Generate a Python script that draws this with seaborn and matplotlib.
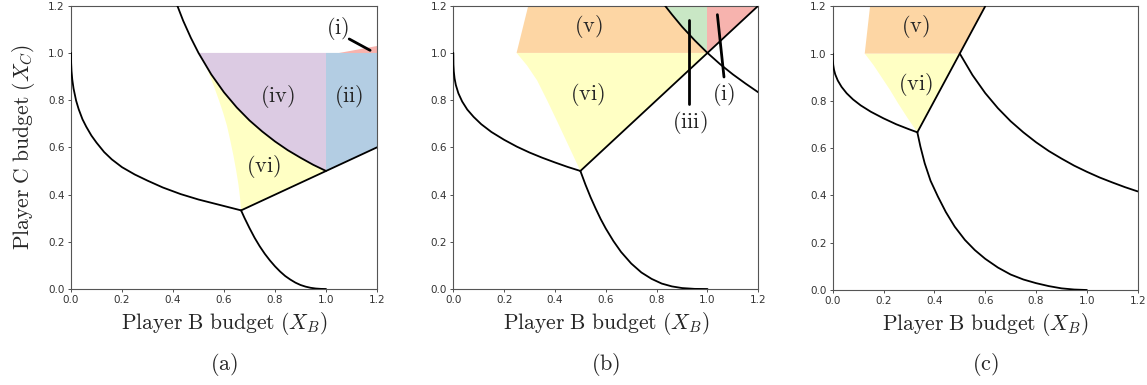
import matplotlib
matplotlib.use('Agg')
import matplotlib.pyplot as plt
import seaborn as sns

sns.set_style('ticks')
plt.rcParams['font.family'] = ['DejaVu Sans']
plt.rcParams['mathtext.fontset'] = 'cm'

# ---------------- panel (a) ----------------
a_left_x = [0.0, 0.0005, 0.002, 0.005, 0.01, 0.02, 0.03, 0.045, 0.06, 0.08, 0.1, 0.13, 0.16, 0.2,
            0.25, 0.3, 0.36, 0.43, 0.5, 0.58, 0.667]
a_left_y = [1.0, 0.957, 0.923, 0.887, 0.849, 0.798, 0.762, 0.719, 0.687, 0.650, 0.620, 0.580, 0.549, 0.516,
            0.485, 0.459, 0.430, 0.402, 0.379, 0.357, 0.333]
a_low_x = [0.667, 0.68, 0.7, 0.72, 0.74, 0.76, 0.78, 0.8, 0.82, 0.84, 0.86, 0.88, 0.9, 0.92, 0.94, 0.96, 0.98, 1.0]
a_low_y = [0.333, 0.302, 0.258, 0.217, 0.181, 0.149, 0.121, 0.096, 0.074, 0.055, 0.040, 0.027, 0.017, 0.010,
           0.005, 0.002, 0.0005, 0.0]
a_up_x = [0.417, 0.44, 0.47, 0.5, 0.55, 0.6, 0.65, 0.7, 0.75, 0.8, 0.85, 0.9, 0.95, 1.0]
a_up_y = [1.2, 1.136, 1.064, 1.0, 0.909, 0.833, 0.769, 0.714, 0.667, 0.625, 0.588, 0.556, 0.526, 0.5]
a_line_x = [0.667, 1.2]
a_line_y = [0.333, 0.6]
a_vi_x = [0.5, 0.52, 0.538, 0.56, 0.58, 0.597, 0.612, 0.624, 0.637, 0.648, 0.657, 0.663, 0.667]
a_vi_y = [1.0, 0.965, 0.921, 0.86, 0.80, 0.745, 0.69, 0.632, 0.565, 0.50, 0.44, 0.385, 0.333]
a_i_x = [1.05, 1.2, 1.2]
a_i_y = [1.0, 1.0, 1.03]

# ---------------- panel (b) ----------------
b_left_x = [0.0, 0.0005, 0.002, 0.005, 0.01, 0.02, 0.035, 0.055, 0.08, 0.11, 0.15, 0.2, 0.25,
            0.3, 0.35, 0.4, 0.45, 0.5]
b_left_y = [1.0, 0.95, 0.921, 0.892, 0.864, 0.829, 0.794, 0.760, 0.729, 0.698, 0.665, 0.632, 0.603,
            0.578, 0.556, 0.536, 0.517, 0.5]
b_low_x = [0.5, 0.52, 0.54, 0.56, 0.58, 0.6, 0.63, 0.66, 0.7, 0.74, 0.78, 0.82, 0.86, 0.9, 0.95, 1.0]
b_low_y = [0.5, 0.442, 0.389, 0.341, 0.296, 0.256, 0.203, 0.157, 0.108, 0.070, 0.043, 0.023, 0.011,
           0.004, 0.0005, 0.0]
b_up_x = [0.833, 0.86, 0.9, 0.95, 1.0, 1.05, 1.1, 1.15, 1.2]
b_up_y = [1.2, 1.163, 1.111, 1.053, 1.0, 0.952, 0.909, 0.870, 0.833]
b_line_x = [0.5, 1.2]
b_line_y = [0.5, 1.2]
b_vi_x = [0.249, 0.29, 0.33, 0.37, 0.41, 0.45, 0.5]
b_vi_y = [1.0, 0.947, 0.883, 0.797, 0.707, 0.615, 0.5]
b_v_top_x = 0.295

# ---------------- panel (c) ----------------
c_left_x = [0.0, 0.0005, 0.002, 0.005, 0.01, 0.02, 0.035, 0.055, 0.08, 0.11, 0.15, 0.2, 0.25, 0.3, 0.333]
c_left_y = [1.0, 0.972, 0.952, 0.932, 0.912, 0.886, 0.859, 0.832, 0.806, 0.781, 0.754, 0.726, 0.701,
            0.680, 0.667]
c_low_x = [0.333, 0.345, 0.362, 0.385, 0.414, 0.445, 0.48, 0.52, 0.559, 0.6, 0.65, 0.7, 0.75, 0.8,
           0.85, 0.9, 0.95, 1.0]
c_low_y = [0.667, 0.607, 0.536, 0.462, 0.395, 0.330, 0.268, 0.212, 0.169, 0.132, 0.095, 0.0655, 0.0445,
           0.029, 0.0165, 0.007, 0.002, 0.0]
c_up_x = [0.5, 0.55, 0.6, 0.65, 0.7, 0.75, 0.8, 0.85, 0.9, 0.95, 1.0, 1.05, 1.1, 1.15, 1.2]
c_up_y = [1.0, 0.909, 0.833, 0.769, 0.714, 0.667, 0.625, 0.588, 0.556, 0.526, 0.5, 0.476, 0.455,
          0.435, 0.417]
c_line_x = [0.333, 0.6]
c_line_y = [0.667, 1.2]
c_vi_x = [0.126, 0.16, 0.191, 0.225, 0.257, 0.296, 0.333]
c_vi_y = [1.0, 0.952, 0.902, 0.847, 0.79, 0.725, 0.667]
c_v_top_x = 0.147

col_i = '#f7b3ae'
col_ii = '#b3cde3'
col_iii = '#c9e7c5'
col_iv = '#dccbe3'
col_v = '#fdd6a4'
col_vi = '#ffffc4'

fig = plt.figure(figsize=(11.47, 3.85), dpi=100)
ax_a = fig.add_axes([71/1147, 1-289/385, 306/1147, 283.3/385])
ax_b = fig.add_axes([453.3/1147, 1-289/385, 305/1147, 283.3/385])
ax_c = fig.add_axes([832.7/1147, 1-290/385, 305/1147, 283.7/385])

lab_fs = 16


def curve(ax, x, y):
    sns.lineplot(x=x, y=y, ax=ax, color='black', lw=1.3, sort=False, estimator=None, zorder=3)


def region_label(ax, x, y, s):
    ax.text(x, y, r'$\mathrm{' + s + '}$', ha='center', va='center', fontsize=lab_fs, zorder=4)


# (a)
a_up_low = [(x, y) for x, y in zip(a_up_x, a_up_y) if x >= 0.5]
ax_a.fill(a_vi_x + [1.0] + [p[0] for p in a_up_low][::-1],
          a_vi_y + [0.5] + [p[1] for p in a_up_low][::-1], color=col_vi, lw=0, zorder=1)
ax_a.fill([0.5, 1.0] + [p[0] for p in a_up_low][::-1],
          [1.0, 1.0] + [p[1] for p in a_up_low][::-1], color=col_iv, lw=0, zorder=2)
ax_a.fill([1.0, 1.2, 1.2, 1.0], [1.0, 1.0, 0.6, 0.5], color=col_ii, lw=0, zorder=2)
ax_a.fill(a_i_x, a_i_y, color=col_i, lw=0, zorder=2)
curve(ax_a, a_left_x, a_left_y)
curve(ax_a, a_low_x, a_low_y)
curve(ax_a, a_up_x, a_up_y)
curve(ax_a, a_line_x, a_line_y)
region_label(ax_a, 0.81, 0.815, '(iv)')
region_label(ax_a, 1.088, 0.815, '(ii)')
region_label(ax_a, 0.754, 0.52, '(vi)')
region_label(ax_a, 1.046, 1.105, '(i)')
ax_a.plot([1.091, 1.173], [1.059, 1.011], color='black', lw=2, zorder=4)

# (b)
ax_b.fill(b_vi_x + [1.0], b_vi_y + [1.0], color=col_vi, lw=0, zorder=1)
b_up_top = [(x, y) for x, y in zip(b_up_x, b_up_y) if x <= 1.0]
ax_b.fill([b_vi_x[0], b_v_top_x] + [p[0] for p in b_up_top],
          [1.0, 1.2] + [p[1] for p in b_up_top], color=col_v, lw=0, zorder=2)
ax_b.fill([p[0] for p in b_up_top] + [1.0],
          [p[1] for p in b_up_top] + [1.2], color=col_iii, lw=0, zorder=2)
ax_b.fill([1.0, 1.0, 1.2], [1.0, 1.2, 1.2], color=col_i, lw=0, zorder=2)
curve(ax_b, b_left_x, b_left_y)
curve(ax_b, b_low_x, b_low_y)
curve(ax_b, b_up_x, b_up_y)
curve(ax_b, b_line_x, b_line_y)
region_label(ax_b, 0.531, 1.11, '(v)')
region_label(ax_b, 0.527, 0.823, '(vi)')
region_label(ax_b, 0.931, 0.705, '(iii)')
region_label(ax_b, 1.062, 0.823, '(i)')
ax_b.plot([0.929, 0.929], [1.138, 0.785], color='black', lw=2, zorder=4)
ax_b.plot([1.039, 1.065], [1.162, 0.898], color='black', lw=2, zorder=4)

# (c)
ax_c.fill(c_vi_x + [0.5], c_vi_y + [1.0], color=col_vi, lw=0, zorder=1)
ax_c.fill([c_vi_x[0], c_v_top_x, 0.6, 0.5], [1.0, 1.2, 1.2, 1.0], color=col_v, lw=0, zorder=2)
curve(ax_c, c_left_x, c_left_y)
curve(ax_c, c_low_x, c_low_y)
curve(ax_c, c_up_x, c_up_y)
curve(ax_c, c_line_x, c_line_y)
region_label(ax_c, 0.324, 1.114, '(v)')
region_label(ax_c, 0.324, 0.87, '(vi)')

ticks = [0.0, 0.2, 0.4, 0.6, 0.8, 1.0, 1.2]
for ax, tag in zip([ax_a, ax_b, ax_c], ['(a)', '(b)', '(c)']):
    ax.set_xlim(0, 1.2)
    ax.set_ylim(0, 1.2)
    ax.set_xticks(ticks)
    ax.set_yticks(ticks)
    ax.set_xticklabels(['%.1f' % t for t in ticks])
    ax.set_yticklabels(['%.1f' % t for t in ticks])
    ax.tick_params(labelsize=7.5, length=2.5, width=0.6, pad=2, colors='#333333')
    for sp in ax.spines.values():
        sp.set_color('#555555')
        sp.set_linewidth(0.8)
    ax.set_xlabel(r'$\mathrm{Player\ B\ budget\ }(X_B)$', fontsize=15.5)
    ax.xaxis.set_label_coords(0.5, -0.075)
    ax.xaxis.label.set_va('top')
    pos = ax.get_position()
    fig.text(pos.x0 + pos.width / 2, 1 - 365/385, r'$\mathrm{' + tag + '}$',
             ha='center', va='center', fontsize=16)

ax_a.set_ylabel(r'$\mathrm{Player\ C\ budget\ }(X_C)$', fontsize=15.5)
ax_a.yaxis.set_label_coords(-0.11, 0.5)

fig.savefig('out.png', dpi=100)
